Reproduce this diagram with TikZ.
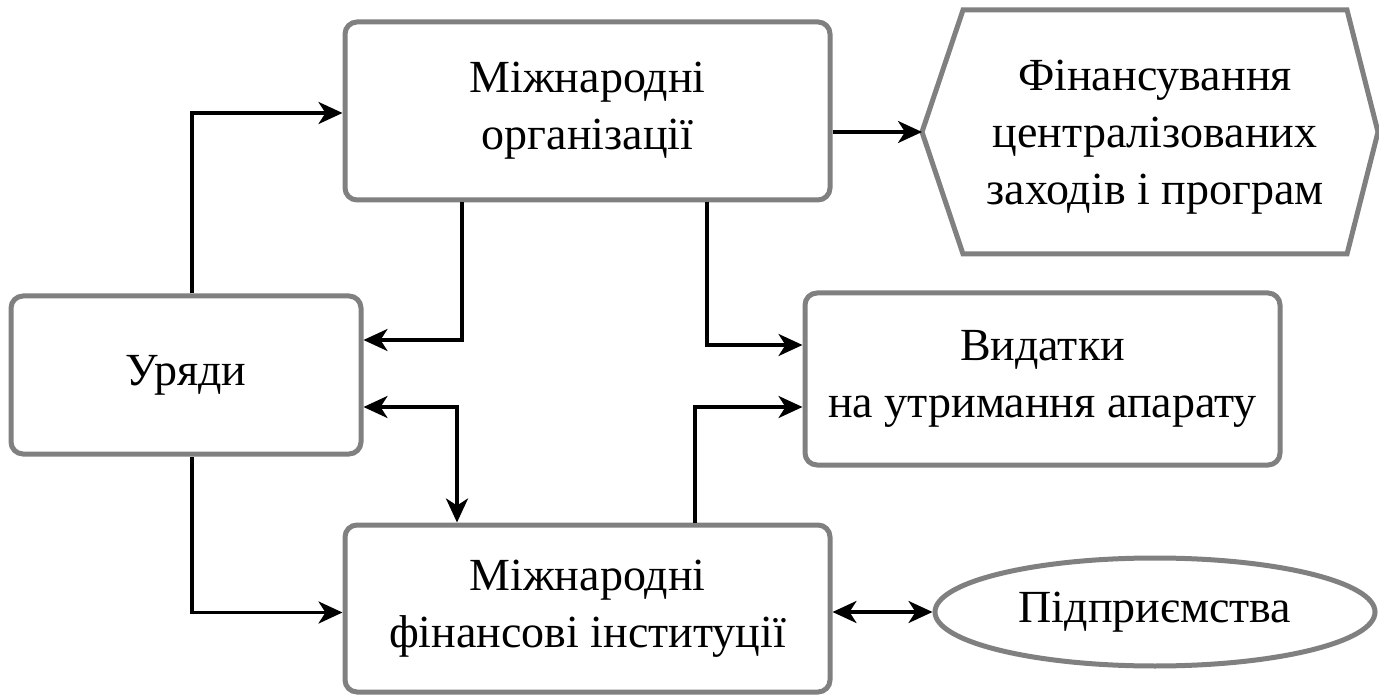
\documentclass[tikz,border=0pt]{standalone}
\usepackage{fontspec}
\setmainfont{Liberation Serif}
\usetikzlibrary{arrows.meta,shapes.geometric,calc}
\begin{document}
\begin{tikzpicture}[x=1pt,y=-1pt,
  txt/.style={font=\fontsize{46}{57}\selectfont},
  box/.style={draw=black!50, line width=5pt, fill=white, rounded corners=12pt, inner sep=0pt, align=center, txt},
  conn/.style={line width=3.5pt, -{Stealth[length=24pt,width=22pt,inset=7pt]}},
  dconn/.style={line width=3.5pt, {Stealth[length=24pt,width=22pt,inset=7pt]}-{Stealth[length=24pt,width=22pt,inset=7pt]}}]
\useasboundingbox (0,0) rectangle (1379,700);
\node[box, minimum width=485pt, minimum height=178pt] (mo) at (587.5,111) {Міжнародні\\організації};
\node[box, minimum width=350pt, minimum height=158pt] (ury) at (186,375) {Уряди};
\node[box, minimum width=485pt, minimum height=167pt] (mfi) at (587.5,608.5) {Міжнародні\\фінансові інституції};
\node[box, minimum width=475pt, minimum height=172pt] (vid) at (1042.5,379) {Видатки\\на утримання апарату};
% hexagon
\draw[draw=black!50, line width=5pt, fill=white, line join=miter]
  (922,132) -- (963,10) -- (1347,10) -- (1378,132) -- (1347,254) -- (963,254) -- cycle;
\coordinate (hexL) at (922,132);
\node[align=center, txt, inner sep=0pt] (hex) at (1155,137) {Фінансування\\централізованих\\заходів і програм};
\node[draw=black!50, line width=5pt, fill=white, ellipse, minimum width=440pt, minimum height=108pt, inner sep=0pt, txt] (ell) at (1155,612) {Підприємства};
% connectors
\draw[conn] ([xshift=6pt]ury.north) |- ([yshift=-2pt]mo.west);
\draw[conn] ([xshift=6pt]ury.south) |- ([yshift=-4pt]mfi.west);
\draw[conn] ([xshift=-125.5pt]mo.south) |- ([yshift=35pt]ury.east);
\draw[conn] ([xshift=119.5pt]mo.south) |- ([yshift=34pt]vid.west);
\draw[dconn] ([yshift=-32pt]ury.east) -| ([xshift=-130.5pt]mfi.north);
\draw[conn] ([xshift=107.5pt]mfi.north) |- ([yshift=-28pt]vid.west);
\draw[conn] (hexL -| mo.east) -- (hexL);
\draw[dconn] (ell.west -| mfi.east) -- (ell.west);
\end{tikzpicture}
\end{document}
